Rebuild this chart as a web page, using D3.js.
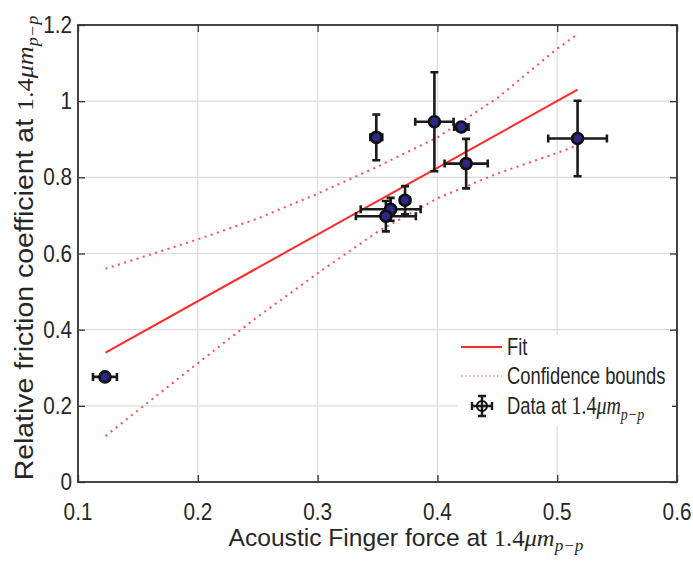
<!DOCTYPE html>
<html>
<head>
<meta charset="utf-8">
<script src="https://cdn.jsdelivr.net/npm/d3@7"></script>
<style>
  body { margin: 0; background: #fff; }
  text { font-family: "Liberation Sans", Arial, sans-serif; fill: #262626; }
  .math { font-family: "Liberation Serif", "DejaVu Serif", serif; }
</style>
</head>
<body>
<script>
// Measured data (x = acoustic finger force, y = relative friction coefficient)
const forceX      = [0.1225, 0.349, 0.3975, 0.420, 0.424, 0.517, 0.361, 0.357, 0.373];
const frictionY   = [0.276, 0.905, 0.946, 0.932, 0.836, 0.902, 0.716, 0.698, 0.740];
const forceErr    = [0.010, 0.005, 0.016, 0.006, 0.018, 0.0245, 0.025, 0.025, 0.004];
const frictionErr = [0.008, 0.060, 0.130, 0.010, 0.065, 0.099, 0.030, 0.040, 0.037];

// Linear fit end points
const fitX = [0.123, 0.517];
const fitY = [0.340, 1.030];

// Confidence bounds
const boundX     = [0.123, 0.2, 0.25, 0.3, 0.35, 0.4, 0.45, 0.5, 0.517];
const upperBound = [0.560, 0.637, 0.692, 0.757, 0.828, 0.905, 1.008, 1.138, 1.176];
const lowerBound = [0.121, 0.312, 0.434, 0.548, 0.657, 0.745, 0.810, 0.864, 0.884];

const xTicks = [0.1, 0.2, 0.3, 0.4, 0.5, 0.6];
const yTicks = [0, 0.2, 0.4, 0.6, 0.8, 1, 1.2];
const xTickLabels = ["0.1", "0.2", "0.3", "0.4", "0.5", "0.6"];
const yTickLabels = ["0", "0.2", "0.4", "0.6", "0.8", "1", "1.2"];

const w = 693, h = 562;
const padL = 78, padR = 677, padT = 25, padB = 482;

const svg = d3.select("body").append("svg").attr("width", w).attr("height", h);
svg.append("rect").attr("width", w).attr("height", h).attr("fill", "#fff");

const x = d3.scaleLinear().domain([0.1, 0.6]).range([padL, padR]);
const y = d3.scaleLinear().domain([0, 1.2]).range([padB, padT]);

// grid
svg.append("g").selectAll("line").data(xTicks).join("line")
  .attr("x1", d => x(d)).attr("x2", d => x(d)).attr("y1", padT).attr("y2", padB)
  .attr("stroke", "#dcdcdc").attr("stroke-width", 1.2);
svg.append("g").selectAll("line").data(yTicks).join("line")
  .attr("x1", padL).attr("x2", padR).attr("y1", d => y(d)).attr("y2", d => y(d))
  .attr("stroke", "#dcdcdc").attr("stroke-width", 1.2);

// axes (inward ticks on all four sides, like MATLAB's box)
const tickLen = 7;
const xAxisB = d3.axisTop(x).tickValues(xTicks).tickSize(tickLen).tickFormat("");
const xAxisT = d3.axisBottom(x).tickValues(xTicks).tickSize(tickLen).tickFormat("");
const yAxisL = d3.axisRight(y).tickValues(yTicks).tickSize(tickLen).tickFormat("");
const yAxisR = d3.axisLeft(y).tickValues(yTicks).tickSize(tickLen).tickFormat("");
[[xAxisB, `translate(0,${padB})`], [xAxisT, `translate(0,${padT})`],
 [yAxisL, `translate(${padL},0)`], [yAxisR, `translate(${padR},0)`]].forEach(([ax, tr]) => {
  const g = svg.append("g").attr("transform", tr).call(ax);
  g.select(".domain").remove();
  g.selectAll("line").attr("stroke", "#333").attr("stroke-width", 1.3);
});
svg.append("rect").attr("x", padL).attr("y", padT)
  .attr("width", padR - padL).attr("height", padB - padT)
  .attr("fill", "none").attr("stroke", "#333").attr("stroke-width", 1.8);

// tick labels
const tickScale = 0.9;
svg.append("g").selectAll("text").data(xTicks).join("text")
  .attr("transform", d => `translate(${x(d)},520) scale(${tickScale},1)`)
  .attr("text-anchor", "middle").attr("font-size", 23)
  .text((d, i) => xTickLabels[i]);
svg.append("g").selectAll("text").data(yTicks).join("text")
  .attr("transform", d => `translate(72,${y(d) + 8}) scale(${tickScale},1)`)
  .attr("text-anchor", "end").attr("font-size", 23)
  .text((d, i) => yTickLabels[i]);

// fit + confidence bounds
const line = d3.line().x(d => x(d[0])).y(d => y(d[1]));
svg.append("path").datum(d3.zip(boundX, upperBound)).attr("d", line)
  .attr("fill", "none").attr("stroke", "#ff4d4d").attr("stroke-width", 2)
  .attr("stroke-dasharray", "2 4.5");
svg.append("path").datum(d3.zip(boundX, lowerBound)).attr("d", line)
  .attr("fill", "none").attr("stroke", "#ff4d4d").attr("stroke-width", 2)
  .attr("stroke-dasharray", "2 4.5");
svg.append("path").datum(d3.zip(fitX, fitY)).attr("d", line)
  .attr("fill", "none").attr("stroke", "#ff2a2a").attr("stroke-width", 2);

// error bars
const cap = 4;
const pts = forceX.map((fx, i) => ({ x: fx, y: frictionY[i], ex: forceErr[i], ey: frictionErr[i] }));
const eb = svg.append("g").attr("stroke", "#1a1a1a").attr("stroke-width", 2.6).attr("fill", "none");
pts.forEach(p => {
  const cx = x(p.x), cy = y(p.y);
  const y0 = y(p.y - p.ey), y1 = y(p.y + p.ey);
  const x0 = x(p.x - p.ex), x1 = x(p.x + p.ex);
  eb.append("path").attr("d",
    `M${cx},${y0}V${y1}M${cx - cap},${y0}H${cx + cap}M${cx - cap},${y1}H${cx + cap}` +
    `M${x0},${cy}H${x1}M${x0},${cy - cap}V${cy + cap}M${x1},${cy - cap}V${cy + cap}`);
});
svg.append("g").selectAll("circle").data(pts).join("circle")
  .attr("cx", d => x(d.x)).attr("cy", d => y(d.y)).attr("r", 5.5)
  .attr("fill", "#2a2a86").attr("stroke", "#0d0d0d").attr("stroke-width", 2.6);

// legend (white box, no border)
const lg = svg.append("g");
lg.append("rect").attr("x", 458).attr("y", 335).attr("width", 214).attr("height", 92).attr("fill", "#fff");
lg.append("line").attr("x1", 461).attr("x2", 502).attr("y1", 347).attr("y2", 347)
  .attr("stroke", "#ff2a2a").attr("stroke-width", 2);
lg.append("line").attr("x1", 461).attr("x2", 502).attr("y1", 376).attr("y2", 376)
  .attr("stroke", "#ff8080").attr("stroke-width", 1.6).attr("stroke-dasharray", "1.5 2.5");
lg.append("path").attr("d", "M482,396V416M478,396H486M478,416H486M472,406H492M472,402V410M492,402V410")
  .attr("stroke", "#1a1a1a").attr("stroke-width", 2.4).attr("fill", "none");
lg.append("circle").attr("cx", 482).attr("cy", 406).attr("r", 5)
  .attr("fill", "none").attr("stroke", "#111").attr("stroke-width", 2.2);

function addMath(t, fs) {
  t.append("tspan").attr("class", "math").attr("font-size", fs).text("1.4");
  t.append("tspan").attr("class", "math").attr("font-size", fs).attr("font-style", "italic").text("μm");
  t.append("tspan").attr("class", "math").attr("font-size", fs * 0.7).attr("font-style", "italic")
    .attr("dy", fs * 0.22).text("p−p");
}

const legScale = 0.8;
lg.append("text").attr("transform", `translate(507,355) scale(${legScale},1)`).attr("font-size", 23).text("Fit");
lg.append("text").attr("transform", `translate(507,384) scale(${legScale},1)`).attr("font-size", 23).text("Confidence bounds");
const dl = lg.append("text").attr("transform", `translate(507,414) scale(${legScale},1)`).attr("font-size", 23);
dl.append("tspan").text("Data at ");
addMath(dl, 25);

// axis labels
const xl = svg.append("text").attr("font-size", 24).attr("text-anchor", "middle");
xl.append("tspan").text("Acoustic Finger force at ");
addMath(xl, 24);
const xlw = xl.node().getBBox().width;
xl.attr("transform", `translate(406,546) scale(${355 / xlw},1)`);

const yl = svg.append("text").attr("font-size", 25).attr("text-anchor", "middle");
yl.append("tspan").text("Relative friction coefficient at  ");
addMath(yl, 23);
const ylw = yl.node().getBBox().width;
yl.attr("transform", `translate(33,248) rotate(-90) scale(${465 / ylw},1)`);
</script>
</body>
</html>
